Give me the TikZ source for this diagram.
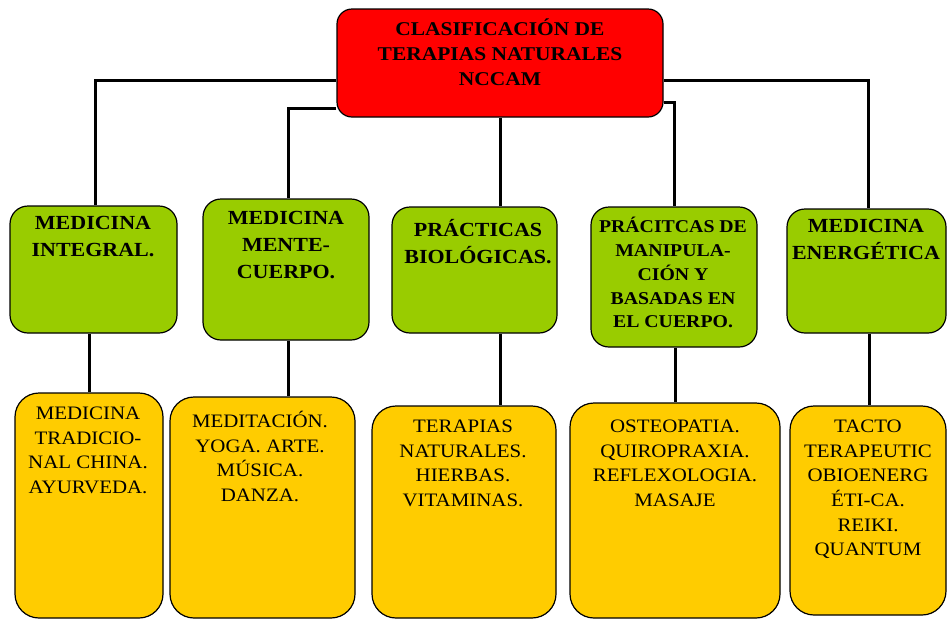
\documentclass[tikz,border=0pt]{standalone}
\usepackage{fontspec}
\setmainfont{Liberation Serif}
\newfontfamily\wideserif[FakeStretch=1.1]{Liberation Serif}
\usetikzlibrary{calc}
\definecolor{boxred}{HTML}{FF0000}
\definecolor{boxgreen}{HTML}{99CC00}
\definecolor{boxyellow}{HTML}{FFCC00}
\tikzset{
  conn/.style={line width=3pt, black},
  boxbase/.style={draw=black, line width=1.2pt, inner sep=0pt},
  redbox/.style={boxbase, fill=boxred, rounded corners=15pt},
  greenbox/.style={boxbase, fill=boxgreen, rounded corners=18pt},
  yellowbox/.style={boxbase, fill=boxyellow, rounded corners=24pt},
  txt/.style={inner sep=0pt, anchor=north, align=center, execute at begin node={\rule{0pt}{1em}}},
  titletxt/.style={txt, font=\wideserif\bfseries\fontsize{19.5}{25}\selectfont},
  greentxt/.style={txt, font=\wideserif\bfseries\fontsize{20}{27}\selectfont},
  yellowtxt/.style={txt, font=\wideserif\fontsize{19}{24.6}\selectfont}
}
\begin{document}
\begin{tikzpicture}[x=1pt, y=-1pt]
\useasboundingbox (0,0) rectangle (948,619);
% boxes
\node[redbox, minimum width=326pt, minimum height=108pt] (red) at (500,63) {};
\node[greenbox, minimum width=167pt, minimum height=127pt] (g1) at (93.5,269.5) {};
\node[greenbox, minimum width=166pt, minimum height=141pt] (g2) at (286,269.5) {};
\node[greenbox, minimum width=165pt, minimum height=126pt] (g3) at (474.5,270) {};
\node[greenbox, minimum width=166pt, minimum height=140pt] (g4) at (674,277) {};
\node[greenbox, minimum width=159pt, minimum height=124pt] (g5) at (866.5,271) {};
\node[yellowbox, minimum width=148pt, minimum height=225pt] (y1) at (89,505.5) {};
\node[yellowbox, minimum width=185pt, minimum height=221pt] (y2) at (262.5,507.5) {};
\node[yellowbox, minimum width=184pt, minimum height=212pt] (y3) at (464,512) {};
\node[yellowbox, minimum width=210pt, minimum height=215pt] (y4) at (675,510.5) {};
\node[yellowbox, minimum width=156pt, minimum height=209pt] (y5) at (868,510.5) {};
% connectors
\draw[conn] ($(red.west)+(0,17)$) -| ($(g1.north)+(1.5,0)$);
\draw[conn] ($(red.west)+(0,45)$) -| ($(g2.north)+(2,0)$);
\draw[conn] (red.south) -- (red.south |- g3.north);
\draw[conn] ($(red.east)+(0,39)$) -| (g4.north);
\draw[conn] ($(red.east)+(0,17)$) -| ($(g5.north)+(1.5,0)$);
\draw[conn] (y1.north) -- (y1.north |- g1.south);
\draw[conn] ($(g2.south)+(2,0)$) -- ($(g2.south |- y2.north)+(2,0)$);
\draw[conn] (red.south |- g3.south) -- (red.south |- y3.north);
\draw[conn] ($(g4.south)+(1,0)$) -- ($(g4.south |- y4.north)+(1,0)$);
\draw[conn] ($(g5.south)+(3,0)$) -- ($(g5.south |- y5.north)+(3,0)$);
% texts
\node[titletxt] (tred) at (500,19) {CLASIFICACIÓN DE\\TERAPIAS NATURALES\\NCCAM};
\node[greentxt] (tg1) at (93,216) {MEDICINA\\INTEGRAL.};
\node[greentxt] (tg2) at (286,211) {MEDICINA\\MENTE-\\CUERPO.};
\node[greentxt] (tg3) at (478,219) {PRÁCTICAS\\BIOLÓGICAS.};
\node[greentxt, font=\wideserif\bfseries\fontsize{18}{23.8}\selectfont] (tg4) at (673,217) {PRÁCITCAS DE\\MANIPULA-\\CIÓN Y\\BASADAS EN\\EL CUERPO.};
\node[greentxt] (tg5) at (866,219) {MEDICINA\\ENERGÉTICA};
\node[yellowtxt] (ty1) at (88,407) {MEDICINA\\TRADICIO-\\NAL CHINA.\\AYURVEDA.};
\node[yellowtxt] (ty2) at (260,411) {MEDITACIÓN.\\YOGA. ARTE.\\MÚSICA.\\DANZA.};
\node[yellowtxt] (ty3) at (463,420) {TERAPIAS\\NATURALES.\\HIERBAS.\\VITAMINAS.};
\node[yellowtxt] (ty4) at (675,420) {OSTEOPATIA.\\QUIROPRAXIA.\\REFLEXOLOGIA.\\MASAJE};
\node[yellowtxt] (ty5) at (868,420) {TACTO\\TERAPEUTIC\\OBIOENERG\\ÉTI-CA.\\REIKI.\\QUANTUM};
\end{tikzpicture}
\end{document}
